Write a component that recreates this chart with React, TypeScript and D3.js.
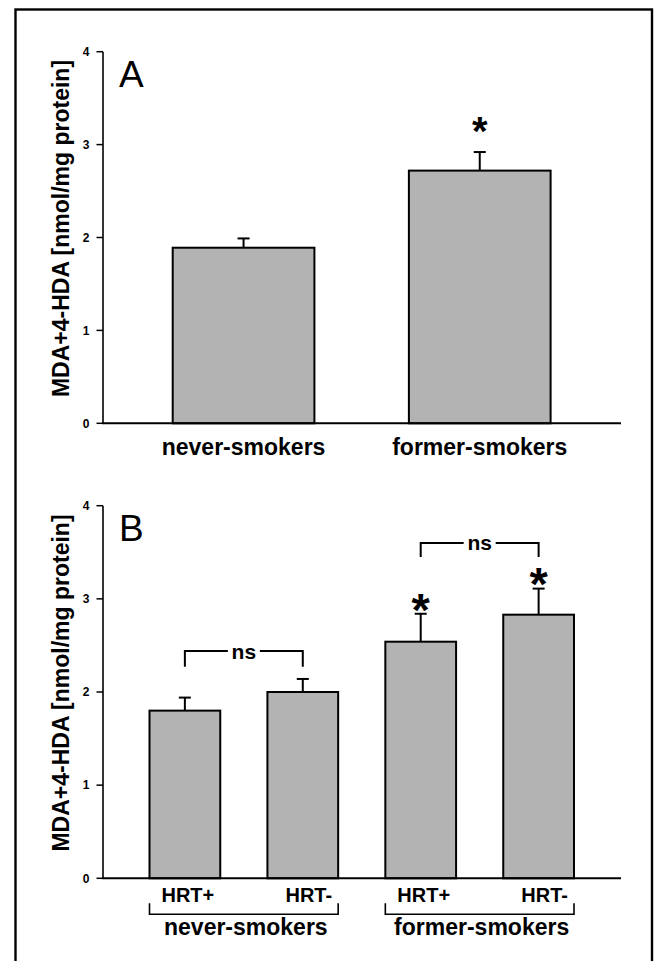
import React from "react";
import * as d3 from "d3";

const catsA = ["never-smokers", "former-smokers"];
const meanA = [1.89, 2.72];
const errA = [0.1, 0.2];
const sigA = [false, true];

const catsB = ["never HRT+", "never HRT-", "former HRT+", "former HRT-"];
const hrtLabels = ["HRT+", "HRT-", "HRT+", "HRT-"];
const meanB = [1.8, 2.0, 2.54, 2.83];
const errB = [0.14, 0.14, 0.3, 0.28];
const sigB = [false, false, true, true];
const groupsB = ["never-smokers", "former-smokers"];
const nsBrackets = [
  { from: 0, to: 1, top: 2.44, bottom: 2.27 },
  { from: 2, to: 3, top: 3.6, bottom: 3.45 },
];

const yTicks = [0, 1, 2, 3, 4];
const yLabel = "MDA+4-HDA [nmol/mg protein]";

const FONT = "'Liberation Sans', Arial, Helvetica, sans-serif";
const FILL = "#b3b3b3";

type PanelProps = {
  letter: string;
  y0: number;
  y4: number;
  cats: string[];
  means: number[];
  errs: number[];
  sig: boolean[];
  xr: [number, number];
  starSize: number;
  starGap: number;
  children?: (x: d3.ScaleBand<string>, y: d3.ScaleLinear<number, number>) => React.ReactNode;
};

function Panel({ letter, y0, y4, cats, means, errs, sig, xr, starSize, starGap, children }: PanelProps) {
  const y = d3.scaleLinear().domain([0, 4]).range([y0, y4]);
  const x = d3.scaleBand<string>().domain(cats).range(xr).paddingInner(0.4).paddingOuter(0);
  const axisX = 103;
  const axisEnd = 621;
  const bw = x.bandwidth();
  return (
    <g>
      {cats.map((c, i) => {
        const cx = (x(c) as number) + bw / 2;
        const et = y(means[i] + errs[i]);
        return (
          <g key={c}>
            <line x1={cx} x2={cx} y1={y(means[i])} y2={et} stroke="#000" strokeWidth={2} />
            <line x1={cx - 6} x2={cx + 6} y1={et} y2={et} stroke="#000" strokeWidth={2} />
            <rect x={x(c)} y={y(means[i])} width={bw} height={y(0) - y(means[i])} fill={FILL} stroke="#000" strokeWidth={2} />
            {sig[i] && (
              <text x={cx} y={et - starGap + starSize * 0.57} textAnchor="middle" fontFamily={FONT} fontWeight="bold" fontSize={starSize}>
                *
              </text>
            )}
          </g>
        );
      })}
      <line x1={axisX} x2={axisX} y1={y(4)} y2={y(0)} stroke="#000" strokeWidth={1.6} />
      <line x1={axisX - 1} x2={axisEnd} y1={y(0)} y2={y(0)} stroke="#000" strokeWidth={2} />
      {yTicks.map((t) => (
        <g key={t}>
          <line x1={axisX - 6.5} x2={axisX} y1={y(t)} y2={y(t)} stroke="#000" strokeWidth={1.5} />
          <text x={axisX - 13.5} y={y(t)} dy="0.36em" textAnchor="end" fontFamily={FONT} fontWeight="bold" fontSize={12}>
            {t}
          </text>
        </g>
      ))}
      <text
        transform={`translate(69,${(y(0) + y(4)) / 2 - 9}) rotate(-90)`}
        textAnchor="middle"
        fontFamily={FONT}
        fontWeight="bold"
        fontSize={23}
      >
        {yLabel}
      </text>
      <text x={119} y={y(4) + 35} fontFamily={FONT} fontSize={37}>
        {letter}
      </text>
      {children && children(x, y)}
    </g>
  );
}

export default function App() {
  return (
    <svg width={655} height={961} style={{ position: "absolute", left: 0, top: 0, background: "#fff" }}>
      <rect x={0} y={0} width={655} height={961} fill="#fff" />
      <rect x={15.5} y={9.5} width={636.5} height={960} fill="none" stroke="#000" strokeWidth={2.4} />
      <Panel
        letter="A"
        y0={423.3}
        y4={51.7}
        cats={catsA}
        means={meanA}
        errs={errA}
        sig={sigA}
        xr={[172.7, 550.6]}
        starSize={40}
        starGap={30}
      >
        {(x, y) =>
          catsA.map((c) => (
            <text key={c} x={(x(c) as number) + x.bandwidth() / 2} y={y(0) + 32} textAnchor="middle" fontFamily={FONT} fontWeight="bold" fontSize={23}>
              {c}
            </text>
          ))
        }
      </Panel>
      <Panel
        letter="B"
        y0={878.3}
        y4={505.7}
        cats={catsB}
        means={meanB}
        errs={errB}
        sig={sigB}
        xr={[149.5, 574]}
        starSize={47}
        starGap={15}
      >
        {(x, y) => {
          const bw = x.bandwidth();
          const cx = (i: number) => (x(catsB[i]) as number) + bw / 2;
          return (
            <g>
              {nsBrackets.map((b, k) => {
                const xl = cx(b.from);
                const xr2 = cx(b.to);
                const mid = (xl + xr2) / 2;
                const yt = y(b.top);
                const yb = y(b.bottom);
                return (
                  <g key={k}>
                    <path d={`M${xl},${yb}V${yt}H${mid - 16}`} fill="none" stroke="#000" strokeWidth={2} />
                    <path d={`M${mid + 16},${yt}H${xr2}V${yb}`} fill="none" stroke="#000" strokeWidth={2} />
                    <text x={mid} y={yt + 7.5} textAnchor="middle" fontFamily={FONT} fontWeight="bold" fontSize={21}>
                      ns
                    </text>
                  </g>
                );
              })}
              {hrtLabels.map((h, i) => (
                <text key={i} x={cx(i) + (h === "HRT-" ? 6 : 3)} y={y(0) + 23.4} textAnchor="middle" fontFamily={FONT} fontWeight="bold" fontSize={20}>
                  {h}
                </text>
              ))}
              {groupsB.map((g, k) => {
                const l = x(catsB[k * 2]) as number;
                const r = (x(catsB[k * 2 + 1]) as number) + bw;
                const yb = y(0) + 36;
                return (
                  <g key={g}>
                    <path d={`M${l},${yb - 11}V${yb}H${r}V${yb - 11}`} fill="none" stroke="#000" strokeWidth={1.6} />
                    <text x={(l + r) / 2 + 2} y={y(0) + 57} textAnchor="middle" fontFamily={FONT} fontWeight="bold" fontSize={23}>
                      {g}
                    </text>
                  </g>
                );
              })}
            </g>
          );
        }}
      </Panel>
    </svg>
  );
}
